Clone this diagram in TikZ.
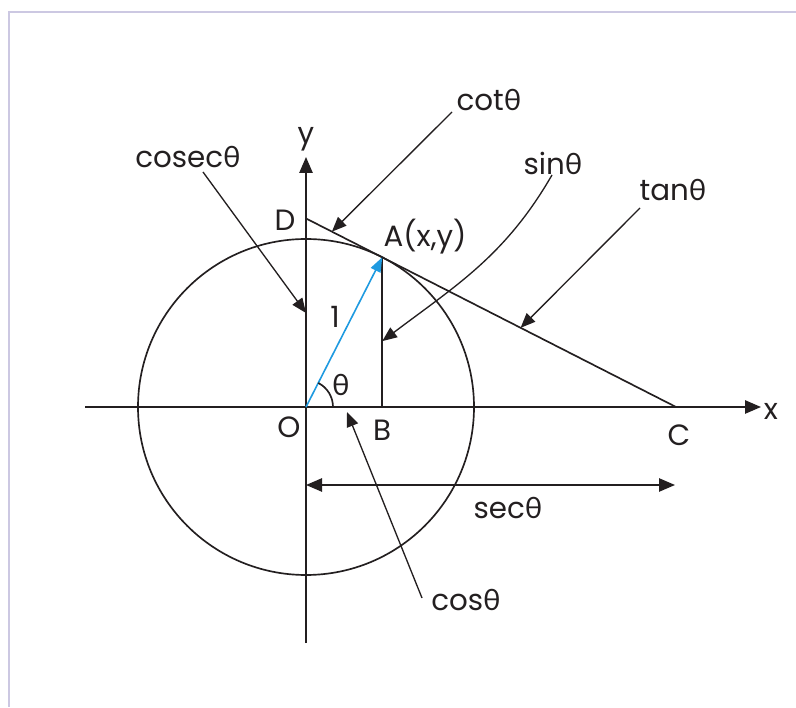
\documentclass[tikz,border=0pt]{standalone}
\usepackage{fontspec}
\setmainfont{Poppins}
\newfontfamily\thetafont{Lato}
\usetikzlibrary{arrows.meta,calc}
\definecolor{trigink}{HTML}{231F20}
\definecolor{trigblue}{HTML}{1E9AE0}
\definecolor{trigframe}{HTML}{CCC8E2}
\newcommand{\tht}{{\thetafont θ}}
\tikzset{
  trig line/.style={draw=trigink, line width=1.25pt},
  trig axis/.style={trig line, -{Triangle[length=12pt, width=10pt]}},
  trig radius/.style={draw=trigblue, line width=1.2pt,
    -{Triangle[length=11pt, width=8pt]}},
  trig pointer/.style={draw=trigink, line width=1pt,
    -{Triangle[length=11pt, width=9pt]}},
  trig both/.style={draw=trigink, line width=1.1pt,
    {Triangle[length=12pt, width=10pt]}-{Triangle[length=12pt, width=10pt]}},
  trig label/.style={font=\fontsize{22}{26}\selectfont, text=trigink,
    inner sep=0pt},
}

\begin{document}
\begin{tikzpicture}[x=0.75pt, y=0.75pt]
  \useasboundingbox (0,0) rectangle (796,707);
  \draw[trigframe, line width=2.2pt] (796,695) -- (9,695) -- (9,0);

  \coordinate (O) at (306,300);
  \coordinate (A) at ($(O)+(63:168)$);
  \coordinate (B) at (A |- O);
  \coordinate (C) at ($(O)+({168/cos(63)},0)$);
  \coordinate (D) at ($(O)+(0,{168/sin(63)})$);
  \coordinate (x start) at (85,300);
  \coordinate (x end) at (761,300);
  \coordinate (y start) at (306,64);
  \coordinate (y end) at (306,550);

  \draw[trig axis] (x start) -- (x end);
  \draw[trig axis] (y start) -- (y end);
  \draw[trig line] (O) circle[radius=168];
  \draw[trig line] (D) -- (C);
  \draw[trig line] (A) -- (B);
  \draw[trig radius] (O) -- (A);
  \draw[trig line] ($(O)+(27,0)$) arc[start angle=0, end angle=63, radius=27];

  \node[trig label] (x label) at (771,296) {x};
  \node[trig label] (y label) at (306,568) {y};
  \node[trig label] (O label) at (289,280) {O};
  \node[trig label] (B label) at (382,277) {B};
  \node[trig label] (C label) at (679,272) {C};
  \node[trig label] (D label) at (285,487) {D};
  \node[trig label] (A label) at (425,470) {A(x,y)};
  \node[trig label] (one label) at (335,390) {1};
  \node[trig label] (theta label) at (341,322) {\tht};

  \node[trig label] (cosec) at (188,550) {cosec\tht};
  \node[trig label] (cot) at (489,607) {cot\tht};
  \node[trig label] (sin) at (553,544) {sin\tht};
  \node[trig label] (tan) at (673,517) {tan\tht};
  \node[trig label] (sec) at (508,199) {sec\tht};
  \node[trig label] (cos) at (466,107) {cos\tht};

  \coordinate (cosec tail) at (203,535);
  \coordinate (cosec tip) at ($(O)+(0,94)$);
  \coordinate (cot tail) at (452,595);
  \coordinate (cot tip) at ($(D)!0.07!(C)$);
  \coordinate (sin tail) at (552,532);
  \coordinate (sin tip) at ($(A)!0.56!(B)$);
  \coordinate (tan tail) at (640,499);
  \coordinate (tan tip) at ($(D)!0.58!(C)$);
  \coordinate (cos tail) at (422,109);
  \coordinate (cos tip) at (347,295);
  \coordinate (sec left) at (306,222);
  \coordinate (sec right) at (675,222);

  \draw[trig pointer] (cosec tail) -- (cosec tip);
  \draw[trig pointer] (cot tail) -- (cot tip);
  \draw[trig pointer] (sin tail) to[out=-120, in=37] (sin tip);
  \draw[trig pointer] (tan tail) -- (tan tip);
  \draw[trig pointer] (cos tail) -- (cos tip);
  \draw[trig both] (sec left) -- (sec right);
\end{tikzpicture}
\end{document}
